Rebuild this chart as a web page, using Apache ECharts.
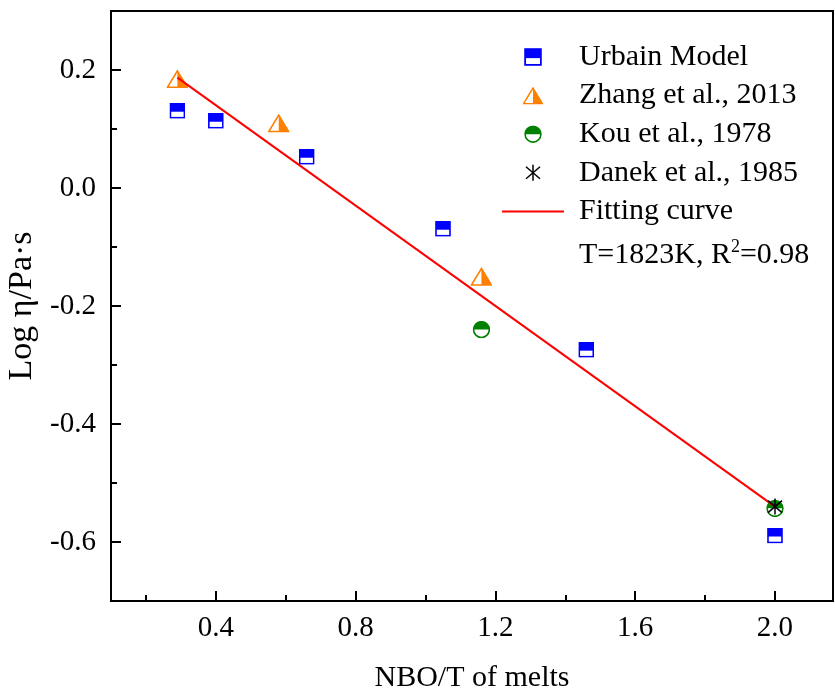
<!DOCTYPE html>
<html>
<head>
<meta charset="utf-8">
<script src="https://cdn.jsdelivr.net/npm/echarts@6/dist/echarts.min.js"></script>
<style>
  html, body { margin: 0; padding: 0; background: #fff; }
  #chart { width: 835px; height: 692px; }
</style>
</head>
<body>
<div id="chart"></div>
<script>
// data
var urbainX = [0.29, 0.40, 0.66, 1.05, 1.46, 2.00];
var urbainY = [0.131, 0.114, 0.053, -0.069, -0.274, -0.589];
var zhangX = [0.29, 0.58, 1.16];
var zhangY = [0.185, 0.110, -0.150];
var kouX = [1.16, 2.00];
var kouY = [-0.240, -0.543];
var danekX = [2.00];
var danekY = [-0.540];
var fitX = [0.29, 2.00];
var fitY = [0.187, -0.540];

// ticks
var xMajor = [0.4, 0.8, 1.2, 1.6, 2.0];
var xMinor = [0.2, 0.6, 1.0, 1.4, 1.8];
var yMajor = [-0.6, -0.4, -0.2, 0.0, 0.2];
var yMinor = [-0.5, -0.3, -0.1, 0.1];

var FONT = 'Liberation Serif';

function pairs(xs, ys) {
  var out = [];
  for (var i = 0; i < xs.length; i++) out.push([xs[i], ys[i]]);
  return out;
}
function svgIcon(svg) {
  return 'image://data:image/svg+xml;charset=utf-8,' + encodeURIComponent(svg);
}

var squareIcon = svgIcon(
  "<svg xmlns='http://www.w3.org/2000/svg' width='16' height='16'>" +
  "<rect x='1' y='1' width='14' height='14' fill='#fff' stroke='#0000ff' stroke-width='1.6'/>" +
  "<rect x='1' y='1' width='14' height='8' fill='#0000ff'/></svg>");
var triIcon = svgIcon(
  "<svg xmlns='http://www.w3.org/2000/svg' width='22' height='19'>" +
  "<polygon points='11,1.5 21,18 1,18' fill='#fff' stroke='#ff8000' stroke-width='1.6'/>" +
  "<polygon points='11,1.5 21,18 11,18' fill='#ff8000'/></svg>");
var circIcon = svgIcon(
  "<svg xmlns='http://www.w3.org/2000/svg' width='18' height='18'>" +
  "<circle cx='9' cy='9' r='7.9' fill='#fff' stroke='#008000' stroke-width='1.6'/>" +
  "<path d='M1.1 9 A7.9 7.9 0 0 1 16.9 9 Z' fill='#008000'/></svg>");
var starIcon = svgIcon(
  "<svg xmlns='http://www.w3.org/2000/svg' width='18' height='18'>" +
  "<g stroke='#000' stroke-width='1.5'>" +
  "<line x1='9' y1='1' x2='9' y2='17'/>" +
  "<line x1='2' y1='3' x2='16' y2='15'/>" +
  "<line x1='16' y1='3' x2='2' y2='15'/></g></svg>");

function tickAxis(dim, min, max, values, len, withLine, withLabel, extra) {
  var ax = {
    type: 'value',
    min: min,
    max: max,
    position: dim === 'x' ? 'bottom' : 'left',
    axisLine: { show: withLine, onZero: false, lineStyle: { color: '#000', width: 2 } },
    axisTick: { show: true, inside: true, length: len, customValues: values, lineStyle: { color: '#000', width: 2 } },
    axisLabel: { show: withLabel },
    splitLine: { show: false }
  };
  for (var k in extra) ax[k] = extra[k];
  return ax;
}

var chart = echarts.init(document.getElementById('chart'));

chart.setOption({
  animation: false,
  backgroundColor: '#fff',
  grid: {
    left: 111, right: 2, top: 11, bottom: 91,
    show: true, borderColor: '#000', borderWidth: 2,
    outerBoundsMode: 'none'
  },
  xAxis: [
    tickAxis('x', 0.1, 2.166, xMajor, 10, true, true, {
      axisLabel: {
        customValues: xMajor, fontFamily: FONT, fontSize: 29, color: '#000', margin: 13,
        formatter: function (v) { return v.toFixed(1); }
      },
      name: 'NBO/T of melts', nameLocation: 'middle', nameGap: 62,
      nameTextStyle: { fontFamily: FONT, fontSize: 30, color: '#000' }
    }),
    tickAxis('x', 0.1, 2.166, xMinor, 6, false, false, {})
  ],
  yAxis: [
    tickAxis('y', -0.7, 0.3, yMajor, 10, true, true, {
      axisLabel: {
        customValues: yMajor, fontFamily: FONT, fontSize: 29, color: '#000', margin: 15,
        formatter: function (v) { return v.toFixed(1); }
      },
      name: 'Log \u03b7/Pa\u00b7s', nameLocation: 'middle', nameGap: 68,
      nameTextStyle: { fontFamily: FONT, fontSize: 34, color: '#000' }
    }),
    tickAxis('y', -0.7, 0.3, yMinor, 6, false, false, {})
  ],
  legend: {
    orient: 'vertical',
    left: 497,
    top: 37,
    itemWidth: 62,
    itemHeight: 18,
    itemGap: 8.6,
    textStyle: { fontFamily: FONT, fontSize: 30, color: '#000', padding: [0, 0, 0, 10] },
    data: [
      'Urbain Model',
      'Zhang et al., 2013',
      'Kou et al., 1978',
      'Danek et al., 1985',
      { name: 'Fitting curve', icon: 'path://M0 0 H62 V2 H0 Z' }
    ]
  },
  title: {
    text: 'T=1823K, R{sup|2}=0.98',
    left: 574,
    top: 233,
    textStyle: {
      fontFamily: FONT, fontSize: 30, fontWeight: 'normal', color: '#000',
      rich: { sup: { fontFamily: FONT, fontSize: 18, color: '#000', padding: [0, 0, 16, 0] } }
    }
  },
  series: [
    {
      name: 'Urbain Model', type: 'scatter', symbol: squareIcon, symbolSize: 16, z: 2,
      itemStyle: { opacity: 1 },
      data: pairs(urbainX, urbainY)
    },
    {
      name: 'Zhang et al., 2013', type: 'scatter', symbol: triIcon, symbolSize: [22, 19], z: 2,
      itemStyle: { opacity: 1 },
      data: pairs(zhangX, zhangY)
    },
    {
      name: 'Kou et al., 1978', type: 'scatter', symbol: circIcon, symbolSize: 18, z: 2,
      itemStyle: { opacity: 1 },
      data: pairs(kouX, kouY)
    },
    {
      name: 'Danek et al., 1985', type: 'scatter', symbol: starIcon, symbolSize: 18, z: 4,
      itemStyle: { opacity: 1 },
      data: pairs(danekX, danekY)
    },
    {
      name: 'Fitting curve', type: 'line', symbol: 'none', z: 3,
      itemStyle: { color: '#ff0000' },
      lineStyle: { color: '#ff0000', width: 2 },
      data: pairs(fitX, fitY)
    }
  ]
});
</script>
</body>
</html>
